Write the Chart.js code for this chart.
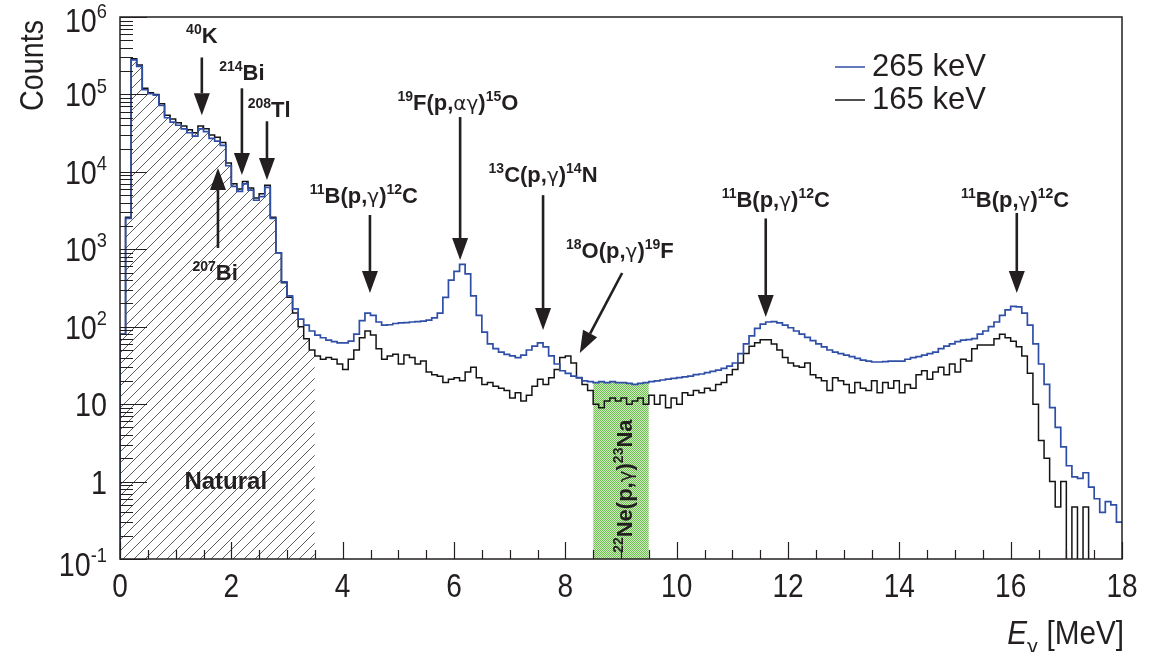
<!DOCTYPE html>
<html>
<head>
<meta charset="utf-8">
<script src="https://cdn.jsdelivr.net/npm/chart.js@4.4.1/dist/chart.umd.min.js"></script>
<style>
  html, body { margin: 0; padding: 0; background: #fff; }
  canvas { display: block; }
</style>
</head>
<body>
<canvas id="spectrum" width="1154" height="652"></canvas>
<script>
const BIN_WIDTH = 0.1; // MeV
const E_MAX = 18;
const FLOOR = 1e-3; // empty bins are pushed below the axis floor of the log scale

const seriesNames = ["265 keV", "165 keV"];
const seriesColors = ["#2f4ea6", "#141414"];

// counts per 0.1 MeV bin, one row per MeV
const counts265 = [
	80, 2500, 280000, 230000, 115000, 102000, 98000, 72000, 50000, 44000,
	40000, 36000, 32000, 29000, 36000, 33000, 27000, 25000, 22000, 12000,
	6500, 5600, 7000, 5800, 4300, 4800, 6300, 2500, 900, 380,
	250, 170, 125, 105, 88, 78, 72, 67, 64, 62,
	62, 65, 80, 120, 150, 140, 115, 105, 106, 110,
	112, 113, 115, 116, 118, 122, 130, 150, 240, 400,
	520, 640, 480, 250, 140, 85, 60, 52, 47, 44,
	42, 40, 43, 50, 56, 62, 55, 42, 33, 27,
	25, 23, 22, 20, 19.5, 19, 19.5, 19, 19.5, 19,
	19, 18.5, 18, 18.5, 19, 19.5, 20, 20.5, 21, 21.5,
	22, 22.5, 23, 24, 24.5, 25.5, 26.5, 27.5, 29, 31,
	34, 45, 60, 76, 95, 108, 115, 116, 112, 105,
	97, 88, 80, 73, 66, 60, 55, 50, 47, 45,
	43, 41, 39, 37, 36, 35, 35, 35.5, 36, 36,
	36, 38, 40, 41, 43, 45, 47, 52, 56, 60,
	64, 67, 68, 70, 80, 88, 100, 115, 140, 165,
	183, 180, 150, 105, 60, 33, 18, 9, 5, 2.8,
	1.6, 1.15, 1.1, 1.3, 0.85, 0.6, 0.4, 0.55, 0.5, 0.3,
];

const counts165 = [
	80, 2600, 290000, 240000, 120000, 105000, 100000, 76000, 54000, 48000,
	43000, 39000, 35000, 32000, 39000, 36000, 30000, 28000, 24000, 13000,
	7000, 6000, 7500, 6200, 4600, 5200, 6700, 2600, 900, 370,
	240, 150, 100, 70, 50, 42, 38, 40, 38, 33,
	28, 38, 50, 72, 88, 78, 52, 38, 42, 44,
	33, 43, 40, 33, 36, 26, 24, 23, 19, 21,
	22, 20, 26, 30, 22, 18, 19, 17, 16, 15,
	12, 14, 11, 13, 17, 21, 18, 22, 28, 40,
	42, 34, 22, 18, 15, 10, 9, 11, 12, 11,
	12, 10, 11, 12, 10, 13, 10, 13, 9, 12,
	10, 14, 13, 15, 14, 16, 15, 18, 19, 24,
	28, 34, 45, 56, 62, 68, 68, 60, 50, 40,
	34, 31, 30, 34, 24, 22, 20, 15, 22, 20,
	18, 14, 19, 16, 15, 20, 14, 19, 16, 20,
	14, 18, 16, 24, 27, 21, 26, 30, 24, 33,
	26, 38, 36, 52, 58, 58, 58, 70, 80, 72,
	65, 55, 42, 25, 10, 3.4, 2.0, 1.0, 0.47, 1.0,
	0, 0.47, 0, 0.47, 0, 0, 0, 0, 0, 0,
];

const naturalRange = [0, 3.5];
const neonRange = [8.5, 9.5];

const yDecades = [-1, 0, 1, 2, 3, 4, 5, 6];
const xMajorTicks = [0, 2, 4, 6, 8, 10, 12, 14, 16, 18];
const xMinorStep = 0.5;

// peak labels: text parts, label anchor [MeV, counts], arrow [from, to]
const peakLabels = [
	{ text: [["40", "sup"], ["K", ""]], at: [1.47, 4.6e5], arrow: [[1.47, 3.0e5], [1.47, 5.4e4]] },
	{ text: [["214", "sup"], ["Bi", ""]], at: [2.19, 1.54e5], arrow: [[2.19, 1.2e5], [2.19, 9.1e3]] },
	{ text: [["208", "sup"], ["Tl", ""]], at: [2.68, 5.1e4], arrow: [[2.64, 4.5e4], [2.64, 7.85e3]] },
	{ text: [["207", "sup"], ["Bi", ""]], at: [1.71, 401], arrow: [[1.76, 1.04e3], [1.76, 1.12e4]] },
	{ text: [["11", "sup"], ["B(p,", ""], ["γ", "g"], [")", ""], ["12", "sup"], ["C", ""]], at: [4.38, 3.96e3], arrow: [[4.49, 2.77e3], [4.49, 272]] },
	{ text: [["19", "sup"], ["F(p,", ""], ["αγ", "g"], [")", ""], ["15", "sup"], ["O", ""]], at: [6.07, 6.3e4], arrow: [[6.11, 5.1e4], [6.11, 727]] },
	{ text: [["13", "sup"], ["C(p,", ""], ["γ", "g"], [")", ""], ["14", "sup"], ["N", ""]], at: [7.6, 7.4e3], arrow: [[7.6, 5.0e3], [7.6, 90.7]] },
	{ text: [["18", "sup"], ["O(p,", ""], ["γ", "g"], [")", ""], ["19", "sup"], ["F", ""]], at: [8.98, 771], arrow: [[9.02, 494], [8.26, 45.8]] },
	{ text: [["11", "sup"], ["B(p,", ""], ["γ", "g"], [")", ""], ["12", "sup"], ["C", ""]], at: [11.78, 3.5e3], arrow: [[11.6, 2.5e3], [11.6, 133]] },
	{ text: [["11", "sup"], ["B(p,", ""], ["γ", "g"], [")", ""], ["12", "sup"], ["C", ""]], at: [16.08, 3.5e3], arrow: [[16.11, 2.94e3], [16.11, 272]] },
];

const FAMILY = '"Liberation Sans", Arial, sans-serif';
const GREEK = '"DejaVu Sans", sans-serif';
const INK = "#231f20";

// step-histogram points: left bin edges plus the closing right edge
function histPoints(values, from, to, fromAxis) {
	const pts = [];
	if (fromAxis) pts.push({ x: from, y: FLOOR });
	values.forEach((v, i) => {
		const x0 = Math.round(i * BIN_WIDTH * 1000) / 1000;
		if (x0 < from - 1e-9 || x0 >= to - 1e-9) return;
		pts.push({ x: x0, y: v > 0 ? v : FLOOR });
	});
	pts.push({ x: Math.min(to, E_MAX), y: pts[pts.length - 1].y });
	return pts;
}

const canvas = document.getElementById("spectrum");
const ctx2d = canvas.getContext("2d");

function hatchPattern() {
	const tile = document.createElement("canvas");
	tile.width = 11;
	tile.height = 11;
	const g = tile.getContext("2d");
	g.strokeStyle = "#333";
	g.lineWidth = 0.8;
	g.beginPath();
	g.moveTo(-1, 12);
	g.lineTo(12, -1);
	g.stroke();
	return ctx2d.createPattern(tile, "repeat");
}

function dotPattern() {
	const tile = document.createElement("canvas");
	tile.width = 2;
	tile.height = 2;
	const g = tile.getContext("2d");
	g.fillStyle = "#d3edc2";
	g.fillRect(0, 0, 2, 2);
	g.fillStyle = "#6cbd4f";
	g.fillRect(0, 0, 1, 1);
	g.fillRect(1, 1, 1, 1);
	return ctx2d.createPattern(tile, "repeat");
}

// text with superscripts, subscripts and greek letters
function drawRich(ctx, parts, x, y, size, weight, align, sx) {
	sx = sx || 1;
	const small = Math.round(size * 0.64);
	const pieces = parts.map(([t, kind]) => {
		let font = `${weight} ${size}px ${FAMILY}`;
		let dy = 0;
		if (kind === "sup") {
			font = `${weight} ${small}px ${FAMILY}`;
			dy = -size * 0.42;
		} else if (kind === "sub") {
			font = `${weight} ${small}px ${FAMILY}`;
			dy = size * 0.28;
		} else if (kind === "g") {
			font = `normal ${Math.round(size * 0.92)}px ${GREEK}`;
		} else if (kind === "gsub") {
			font = `normal ${small}px ${GREEK}`;
			dy = size * 0.3;
		} else if (kind === "it") {
			font = `italic ${weight} ${size}px ${FAMILY}`;
		}
		ctx.font = font;
		return { t, font, dy, w: ctx.measureText(t).width * sx };
	});
	const total = pieces.reduce((s, p) => s + p.w, 0);
	let cx = align === "center" ? x - total / 2 : align === "right" ? x - total : x;
	ctx.textBaseline = "alphabetic";
	ctx.textAlign = "left";
	pieces.forEach((p) => {
		ctx.save();
		ctx.font = p.font;
		ctx.translate(cx, y + p.dy);
		ctx.scale(sx, 1);
		ctx.fillText(p.t, 0, 0);
		ctx.restore();
		cx += p.w;
	});
}

function drawArrow(ctx, x0, y0, x1, y1) {
	const ang = Math.atan2(y1 - y0, x1 - x0);
	const len = 22;
	const half = 8;
	const bx = x1 - len * Math.cos(ang);
	const by = y1 - len * Math.sin(ang);
	ctx.beginPath();
	ctx.moveTo(x0, y0);
	ctx.lineTo(bx, by);
	ctx.lineWidth = 2.6;
	ctx.stroke();
	ctx.beginPath();
	ctx.moveTo(x1, y1);
	ctx.lineTo(bx + half * Math.sin(ang), by - half * Math.cos(ang));
	ctx.lineTo(bx - half * Math.sin(ang), by + half * Math.cos(ang));
	ctx.closePath();
	ctx.fill();
}

const framePlugin = {
	id: "frame",
	afterDraw(chart) {
		const { ctx, chartArea: a } = chart;
		const xs = chart.scales.x;
		const ys = chart.scales.y;
		ctx.save();
		ctx.strokeStyle = INK;
		ctx.fillStyle = INK;

		// y ticks: long at decades, short at 2..9
		ctx.lineWidth = 1.2;
		ctx.beginPath();
		yDecades.forEach((d) => {
			const py = Math.round(ys.getPixelForValue(Math.pow(10, d))) + 0.5;
			ctx.moveTo(a.left, py);
			ctx.lineTo(a.left + 27, py);
			if (d === 6) return;
			for (let k = 2; k <= 9; k++) {
				const pm = Math.round(ys.getPixelForValue(k * Math.pow(10, d))) + 0.5;
				ctx.moveTo(a.left, pm);
				ctx.lineTo(a.left + 13, pm);
			}
		});
		// x ticks
		for (let e = 0; e <= E_MAX + 1e-9; e += xMinorStep) {
			const px = Math.round(xs.getPixelForValue(e)) + 0.5;
			const major = xMajorTicks.some((m) => Math.abs(m - e) < 1e-6);
			ctx.moveTo(px, a.bottom);
			ctx.lineTo(px, a.bottom - (major ? 17 : 9));
		}
		ctx.stroke();

		// frame
		ctx.lineWidth = 1.5;
		ctx.strokeRect(a.left, a.top, a.right - a.left, a.bottom - a.top);

		// y tick labels
		yDecades.forEach((d) => {
			const py = ys.getPixelForValue(Math.pow(10, d));
			const parts = d === 0 ? [["1", ""]] : d === 1 ? [["10", ""]] : [["10", ""], [String(d), "sup"]];
			const shift = d === 6 ? 15 : d === -1 ? 17 : 12;
			drawRich(ctx, parts, 107, py + shift, 33, "normal", "right", 0.87);
		});
		// x tick labels
		xMajorTicks.forEach((m) => {
			drawRich(ctx, [[String(m), ""]], xs.getPixelForValue(m), 597, 33, "normal", "center", 0.85);
		});

		// axis titles
		drawRich(ctx, [["E", "it"], ["γ", "gsub"], [" [MeV]", ""]], 1124, 644, 33, "normal", "right", 0.9);
		ctx.save();
		ctx.translate(43, 20);
		ctx.rotate(-Math.PI / 2);
		drawRich(ctx, [["Counts", ""]], 0, 0, 33, "normal", "right", 0.87);
		ctx.restore();

		// legend
		[counts265, counts165].forEach((_, i) => {
			const ly = i === 0 ? 67 : 100;
			ctx.strokeStyle = seriesColors[i];
			ctx.lineWidth = 1.5;
			ctx.beginPath();
			ctx.moveTo(835, ly);
			ctx.lineTo(865, ly);
			ctx.stroke();
			ctx.fillStyle = INK;
			drawRich(ctx, [[seriesNames[i], ""]], 872, ly + 9, 32, "normal", "left", 0.97);
		});

		// peak identifications
		ctx.strokeStyle = INK;
		ctx.fillStyle = INK;
		peakLabels.forEach((p) => {
			drawRich(ctx, p.text, xs.getPixelForValue(p.at[0]), ys.getPixelForValue(p.at[1]), 22, "bold", "center", 1);
			const [from, to] = p.arrow;
			drawArrow(ctx,
				xs.getPixelForValue(from[0]), ys.getPixelForValue(from[1]),
				xs.getPixelForValue(to[0]), ys.getPixelForValue(to[1]));
		});

		// region labels
		drawRich(ctx, [["Natural", ""]], xs.getPixelForValue(1.9), ys.getPixelForValue(0.8), 24, "bold", "center", 1);
		ctx.save();
		ctx.translate(xs.getPixelForValue(9.2), ys.getPixelForValue(0.12));
		ctx.rotate(-Math.PI / 2);
		drawRich(ctx, [["22", "sup"], ["Ne(p,", ""], ["γ", "g"], [")", ""], ["23", "sup"], ["Na", ""]], 0, 0, 22, "bold", "left", 1);
		ctx.restore();

		ctx.restore();
	},
};

new Chart(canvas, {
	type: "line",
	data: {
		datasets: [
			{
				label: seriesNames[0],
				data: histPoints(counts265, 0, E_MAX, true),
				borderColor: seriesColors[0],
				borderWidth: 1.7,
				stepped: "before",
				pointRadius: 0,
				fill: false,
				order: 0,
			},
			{
				label: seriesNames[1],
				data: histPoints(counts165, 0, E_MAX, true),
				borderColor: seriesColors[1],
				borderWidth: 1.5,
				stepped: "before",
				pointRadius: 0,
				fill: false,
				order: 1,
			},
			{
				label: "Natural",
				data: histPoints(counts165, naturalRange[0], naturalRange[1], false),
				borderWidth: 0,
				backgroundColor: hatchPattern(),
				stepped: "before",
				pointRadius: 0,
				fill: "start",
				order: 2,
			},
			{
				label: "22Ne(p,g)23Na",
				data: histPoints(counts265, neonRange[0], neonRange[1], false),
				borderWidth: 0,
				backgroundColor: dotPattern(),
				stepped: "before",
				pointRadius: 0,
				fill: "start",
				order: 3,
			},
		],
	},
	options: {
		responsive: false,
		animation: false,
		devicePixelRatio: 1,
		layout: { padding: { left: 120, top: 17, right: 32, bottom: 93 } },
		plugins: {
			legend: { display: false },
			tooltip: { enabled: false },
		},
		scales: {
			x: { type: "linear", min: 0, max: E_MAX, display: false },
			y: { type: "logarithmic", min: 0.1, max: 1e6, display: false },
		},
	},
	plugins: [framePlugin],
});
</script>
</body>
</html>
